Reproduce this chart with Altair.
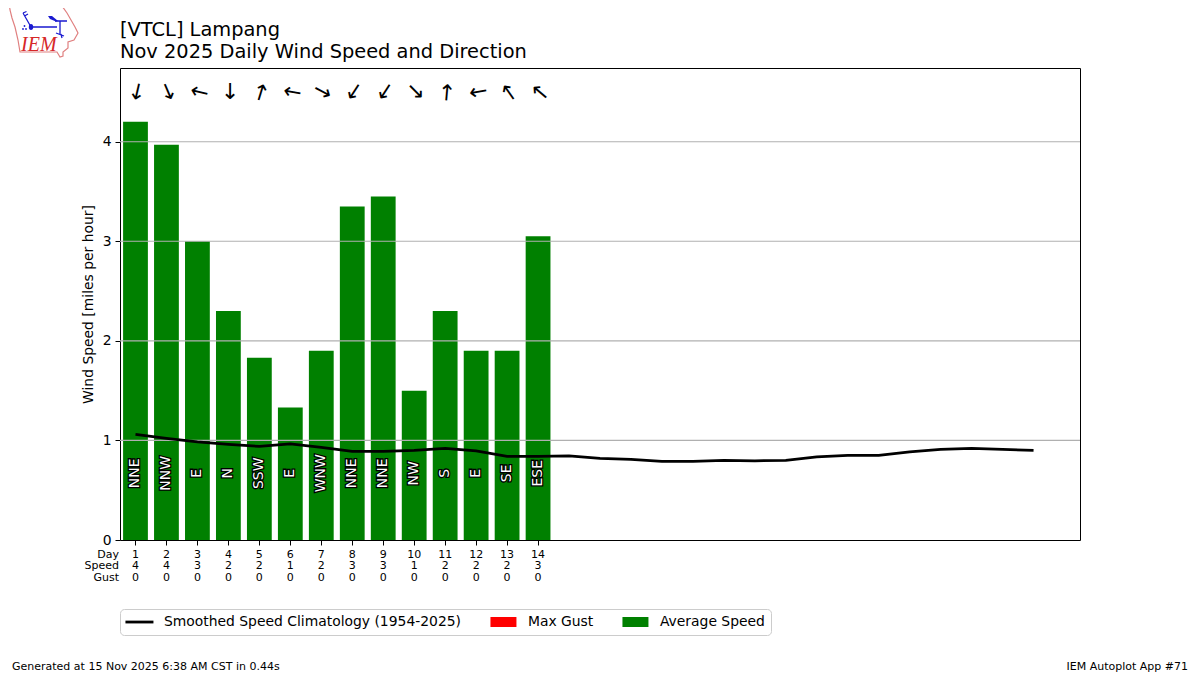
import altair as alt
import pandas as pd

FONT = "DejaVu Sans"

days = list(range(1, 15))
avg_speed = [4.2, 3.97, 3.0, 2.3, 1.83, 1.33, 1.9, 3.35, 3.45, 1.5, 2.3, 1.9, 1.9, 3.05]
speed_row = [4, 4, 3, 2, 2, 1, 2, 3, 3, 1, 2, 2, 2, 3]
gust_row = [0] * 14
dir_text = ["NNE", "NNW", "E", "N", "SSW", "E", "WNW", "NNE", "NNE", "NW", "S", "E", "SE", "ESE"]
arrow_angle = [193, 157, 283, 180, 17, 280, 118, 213, 213, 135, 5, 260, 325, 310]
clim_days = list(range(1, 31))
clim = [1.06, 1.02, 0.985, 0.96, 0.94, 0.965, 0.93, 0.89, 0.89, 0.9, 0.92, 0.895, 0.84, 0.84, 0.845,
        0.82, 0.81, 0.79, 0.79, 0.8, 0.795, 0.8, 0.835, 0.85, 0.85, 0.885, 0.91, 0.92, 0.91, 0.9]
grid_values = [1, 2, 3, 4]
legend_labels = ["Smoothed Speed Climatology (1954-2025)", "Max Gust", "Average Speed"]
legend_colors = ["black", "red", "green"]
legend_shapes = ["M-2.8,-0.28H2.8V0.28H-2.8Z", "M-2.6,-1H2.6V1H-2.6Z", "M-2.6,-1H2.6V1H-2.6Z"]

df = pd.DataFrame(dict(day=days, speed=avg_speed, sp=speed_row, gust=gust_row, d=dir_text, ang=arrow_angle))
df["arrow_y"] = 4.51
df["label_y"] = 0.67
df["arrow"] = "\u2191"
clim_df = pd.DataFrame(dict(day=clim_days, clim=clim))
grid_df = pd.DataFrame(dict(g=grid_values))
leg_df = pd.DataFrame(dict(series=legend_labels))

xs = alt.Scale(domain=[0.5, 31.5], nice=False, zero=False, padding=0)
ys = alt.Scale(domain=[0, 4.74], nice=False)
X = alt.X("day:Q", scale=xs, axis=alt.Axis(values=days, labels=False, title=None, grid=False,
                                            tickColor="black", tickSize=5, domain=False))
Y = alt.Y("speed:Q", scale=ys, axis=alt.Axis(values=[0, 1, 2, 3, 4], format="d", grid=False,
                                              title="Wind Speed [miles per hour]", titleFont=FONT,
                                              titleFontSize=13.9, titleFontWeight="normal", titleColor="black",
                                              titlePadding=7, labelFont=FONT, labelFontSize=13.9,
                                              labelColor="black", labelPadding=4, tickColor="black",
                                              tickSize=5, domain=False))

bars = alt.Chart(df).mark_bar(color="green", size=24.8).encode(x=X, y=Y)
grid = alt.Chart(grid_df).mark_rule(color="#b0b0b0", strokeWidth=1.1).encode(y=alt.Y("g:Q", scale=ys))
line = alt.Chart(clim_df).mark_line(color="black", strokeWidth=2.8).encode(
    x=alt.X("day:Q", scale=xs), y=alt.Y("clim:Q", scale=ys))
arrows = alt.Chart(df).mark_text(font=FONT, fontSize=22, color="black", baseline="middle", align="center",
                                 dy=1.5, xOffset=1.7, yOffset=1).encode(
    x=alt.X("day:Q", scale=xs), y=alt.Y("arrow_y:Q", scale=ys), text="arrow:N",
    angle=alt.Angle("ang:Q", scale=None))
lab_out = alt.Chart(df).mark_text(font=FONT, fontSize=14, angle=270, baseline="middle", align="center",
                                  color="black", stroke="black", strokeWidth=2.6).encode(
    x=alt.X("day:Q", scale=xs), y=alt.Y("label_y:Q", scale=ys), text="d:N")
lab_in = alt.Chart(df).mark_text(font=FONT, fontSize=14, angle=270, baseline="middle", align="center",
                                 color="white").encode(
    x=alt.X("day:Q", scale=xs), y=alt.Y("label_y:Q", scale=ys), text="d:N")


def row(field, ypx):
    return alt.Chart(df).mark_text(font=FONT, fontSize=11, color="black", baseline="middle", align="center").encode(
        x=alt.X("day:Q", scale=xs), y=alt.value(ypx), text=alt.Text(field))


row_day = row("day:Q", 486.5)
row_sp = row("sp:Q", 498)
row_gust = row("gust:Q", 509.5)


def note(text, xpx, ypx, align="left", size=11, **kw):
    return alt.Chart(pd.DataFrame(dict(t=[text]))).mark_text(
        font=kw.pop("font", FONT), fontSize=size, color=kw.pop("color", "black"), align=align,
        baseline="middle", **kw).encode(x=alt.value(xpx), y=alt.value(ypx), text="t:N")


row_names = [note("Day", -1, 486.5, "right"), note("Speed", -1, 498, "right"), note("Gust", -1, 509.5, "right")]
footers = [note("Generated at 15 Nov 2025 6:38 AM CST in 0.44s", -108, 598.5),
           note("IEM Autoplot App #71", 1068, 598.5, "right")]

svg = ("data:image/svg+xml;utf8,<svg xmlns='http://www.w3.org/2000/svg' width='72' height='56' viewBox='0 0 72 56'>"
       "<path d='M1.5,2 L54,2 L59,9 L67,23 L70,29 L66,36 L60,38 L60,44 L55,48 L55,52 L52,53 L49,48 L12,48 "
       "L10,36 L7,23 L4,14 L2,6 Z' fill='white' stroke='%23e08080' stroke-width='1.2'/>"
       "<path d='M23,23 H49 M23,23 L15,9 M15,9 L18.5,7.5 M16.5,12 L20,10 M47,17 H59 M52,17 V31 M48,29 L56,32 M53,30 L54,34' "
       "stroke='%231a1ad0' stroke-width='1.3' fill='none'/>"
       "<path d='M40,12 L44,12 L50,17 L48,17.5 L42,15 Z' fill='%231a1ad0'/>"
       "<ellipse cx='23' cy='23' rx='2.2' ry='3' fill='%231a1ad0'/>"
       "<circle cx='15' cy='25' r='0.9' fill='%231a1ad0'/><circle cx='18' cy='25' r='0.9' fill='%231a1ad0'/>"
       "<circle cx='16.5' cy='22' r='0.9' fill='%231a1ad0'/>"
       "</svg>")
logo = alt.Chart(pd.DataFrame(dict(u=[svg]))).mark_image(width=72, height=56, align="left", baseline="top").encode(
    x=alt.value(-112), y=alt.value(-64), url="u:N")
iem = note("IEM", -99, -23, "left", size=20, font="Liberation Serif", color="#d62728", fontStyle="italic")

legend_layer = alt.Chart(leg_df).mark_point(filled=True, opacity=1, size=0).encode(
    x=alt.value(0), y=alt.value(0),
    color=alt.Color("series:N", scale=alt.Scale(domain=legend_labels, range=legend_colors),
                    legend=alt.Legend(title=None, orient="none", legendX=0, legendY=541, direction="horizontal",
                                      columns=3, columnPadding=28, symbolSize=100, symbolOffset=6.5,
                                      labelFont=FONT, labelFontSize=13.9, labelColor="black", labelLimit=400,
                                      fillColor="white", strokeColor="#cccccc", cornerRadius=4, padding=6,
                                      symbolStrokeWidth=0, labelOffset=17.5)),
    shape=alt.Shape("series:N", scale=alt.Scale(domain=legend_labels, range=legend_shapes)),
)

chart = alt.layer(bars, grid, line, arrows, lab_out, lab_in, row_day, row_sp, row_gust, *row_names,
                  *footers, logo, iem, legend_layer).properties(
    width=960, height=472,
    padding={"left": 112, "top": 60, "right": 112, "bottom": 133},
    autosize=alt.AutoSizeParams(type="none"),
    background="white",
    title=alt.TitleParams(text=["[VTCL] Lampang", "Nov 2025 Daily Wind Speed and Direction"], anchor="start",
                          frame="group", font=FONT, fontSize=19.4, fontWeight="normal", color="black",
                          lineHeight=22, offset=0, dy=58),
).configure_view(stroke="black", strokeWidth=1)

chart.save("out.html", embed_options={"renderer": "svg", "actions": False})
